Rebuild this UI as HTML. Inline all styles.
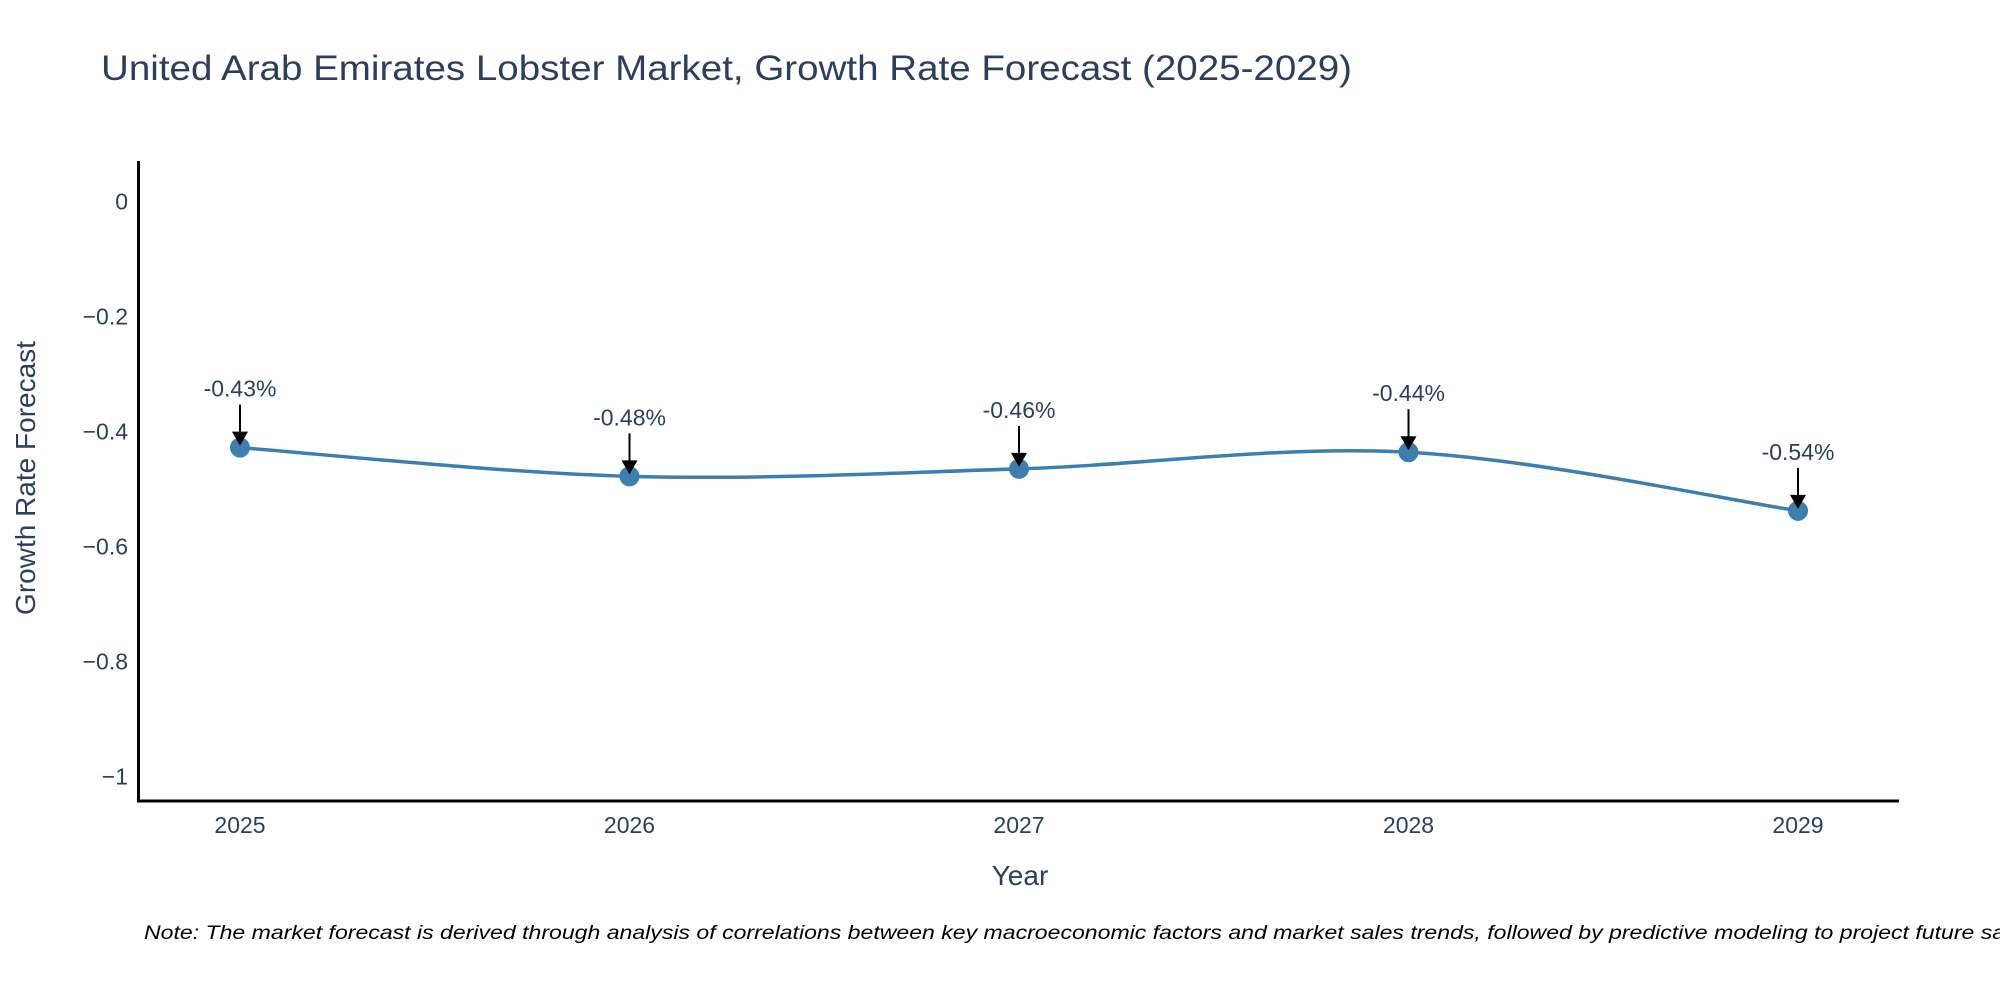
<!DOCTYPE html>
<html><head><meta charset="utf-8"><style>
html,body{margin:0;padding:0;background:#fff;}
svg{display:block;font-family:"Liberation Sans","DejaVu Sans",sans-serif;}
</style></head><body>
<svg id="chart" width="2000" height="1000" viewBox="0 0 2000 1000" xmlns="http://www.w3.org/2000/svg">
<rect width="2000" height="1000" fill="#fff"/>
<text x="101" y="80" font-size="35" fill="#2a3f5f" textLength="1251" lengthAdjust="spacingAndGlyphs">United Arab Emirates Lobster Market, Growth Rate Forecast (2025-2029)</text>
<g id="yticks"></g><g id="xticks"></g>
<line x1="138.5" y1="161" x2="138.5" y2="802" stroke="#000" stroke-width="3"/>
<line x1="137" y1="801" x2="1899" y2="801" stroke="#000" stroke-width="3"/>
<g id="plot"></g>
<text x="1020" y="885" font-size="28" fill="#2a3f5f" text-anchor="middle">Year</text>
<text transform="translate(35,478) rotate(-90)" font-size="28" fill="#2a3f5f" text-anchor="middle">Growth Rate Forecast</text>
<text x="144" y="939" font-size="19" font-style="italic" fill="#000" textLength="1897" lengthAdjust="spacingAndGlyphs">Note: The market forecast is derived through analysis of correlations between key macroeconomic factors and market sales trends, followed by predictive modeling to project future sales.</text>
</svg>
<script>
const years = [2025, 2026, 2027, 2028, 2029];
const growth = [-0.428, -0.478, -0.465, -0.436, -0.538];
const valueLabels = ["-0.43%", "-0.48%", "-0.46%", "-0.44%", "-0.54%"];
const yTickValues = [0, -0.2, -0.4, -0.6, -0.8, -1];
const yTickLabels = ["0", "\u22120.2", "\u22120.4", "\u22120.6", "\u22120.8", "\u22121"];

const NS = "http://www.w3.org/2000/svg";
function xScale(yr){ return 240 + (yr - 2025) * 389.5; }
function yScale(v){ return 201.5 - v * 575; }
function mk(tag, attrs, parent){ const e = document.createElementNS(NS, tag); for (const k in attrs) e.setAttribute(k, attrs[k]); parent.appendChild(e); return e; }

const yt = document.getElementById('yticks');
yTickValues.forEach((v, i) => {
  const t = mk('text', {x: 128, y: yScale(v) + 8, 'font-size': 23, fill: '#2a3f5f', 'text-anchor': 'end'}, yt);
  
  
  t.textContent = yTickLabels[i];
});
const xt = document.getElementById('xticks');
years.forEach(yr => {
  const t = mk('text', {x: xScale(yr), y: 833, 'font-size': 23, fill: '#2a3f5f', 'text-anchor': 'middle'}, xt);
  
  
  t.textContent = String(yr);
});

const plot = document.getElementById('plot');
const pts = years.map((yr, i) => [xScale(yr), yScale(growth[i])]);
let d = `M${pts[0][0]},${pts[0][1]}`;
for (let i = 0; i < pts.length - 1; i++) {
  const p0 = pts[i - 1] || pts[i], p1 = pts[i], p2 = pts[i + 1], p3 = pts[i + 2] || pts[i + 1];
  const c1 = [p1[0] + (p2[0] - p0[0]) / 6, p1[1] + (p2[1] - p0[1]) / 6];
  const c2 = [p2[0] - (p3[0] - p1[0]) / 6, p2[1] - (p3[1] - p1[1]) / 6];
  d += ` C${c1[0]},${c1[1]} ${c2[0]},${c2[1]} ${p2[0]},${p2[1]}`;
}
const line = mk('path', {d: d, fill: 'none', stroke: '#3d7eb0', 'stroke-width': 3.5}, plot);



pts.forEach((p, i) => {
  const c = mk('circle', {cx: p[0], cy: p[1], r: 10, fill: '#3d7eb0'}, plot);
  
  
  const a = mk('line', {x1: p[0], y1: p[1] - 43, x2: p[0], y2: p[1] - 14, stroke: '#000', 'stroke-width': 2}, plot);
  
  
  const h = mk('polygon', {points: `${p[0]-8},${p[1]-16} ${p[0]+8},${p[1]-16} ${p[0]},${p[1]-2}`, fill: '#000'}, plot);
  
  
  const t = mk('text', {x: p[0], y: p[1] - 51, 'font-size': 23, fill: '#2a3f5f', 'text-anchor': 'middle'}, plot);
  
  
  t.textContent = valueLabels[i];
});
</script>
</body></html>
